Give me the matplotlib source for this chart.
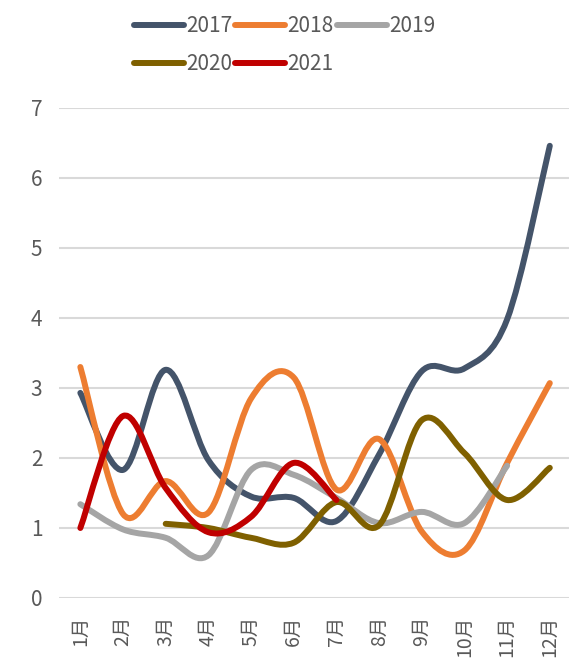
import numpy as np
import matplotlib
matplotlib.use("Agg")
import matplotlib.pyplot as plt
from matplotlib.path import Path
from matplotlib.patches import PathPatch
from matplotlib.lines import Line2D

plt.rcParams['font.family'] = ['Noto Sans CJK SC', 'DejaVu Sans']

months = ['1月', '2月', '3月', '4月', '5月', '6月', '7月', '8月', '9月', '10月', '11月', '12月']
nan = np.nan
y2017 = [2.93, 1.83, 3.26, 1.97, 1.45, 1.43, 1.10, 2.05, 3.24, 3.28, 3.98, 6.46]
y2018 = [3.30, 1.20, 1.67, 1.22, 2.85, 3.15, 1.55, 2.27, 0.95, 0.68, 1.93, 3.07]
y2019 = [1.34, 0.98, 0.86, 0.61, 1.83, 1.76, 1.43, 1.07, 1.23, 1.07, 1.89, nan]
y2020 = [nan, nan, 1.06, 1.00, 0.86, 0.79, 1.37, 1.04, 2.54, 2.07, 1.40, 1.86]
y2021 = [1.00, 2.60, 1.57, 0.94, 1.16, 1.93, 1.40, nan, nan, nan, nan, nan]

series = [('2017', y2017, '#44546A'),
          ('2018', y2018, '#ED7D31'),
          ('2019', y2019, '#A5A5A5'),
          ('2020', y2020, '#7F6000'),
          ('2021', y2021, '#C00000')]


def smooth_path(xs, ys):
    # bezier through the points, like excel's smoothed line
    pts = np.column_stack([xs, ys])
    n = len(pts)
    verts = [pts[0]]
    codes = [Path.MOVETO]
    for i in range(n - 1):
        p0 = pts[i - 1] if i > 0 else pts[i]
        p1 = pts[i]
        p2 = pts[i + 1]
        p3 = pts[i + 2] if i + 2 < n else pts[i + 1]
        verts += [p1 + (p2 - p0) / 6, p2 - (p3 - p1) / 6, p2]
        codes += [Path.CURVE4] * 3
    return Path(verts, codes)


fig = plt.figure(figsize=(5.69, 6.6), dpi=100)
ax = fig.add_axes([59 / 569, 62 / 660, 510 / 569, 490 / 660])

x = np.arange(1, len(months) + 1)
handles = []
for k, (name, vals, color) in enumerate(series):
    v = np.array(vals, dtype=float)
    ok = ~np.isnan(v)
    patch = PathPatch(smooth_path(x[ok], v[ok]), fill=False, edgecolor=color,
                      lw=4.3, capstyle='round', joinstyle='round', zorder=3 + k)
    ax.add_patch(patch)
    handles.append(Line2D([], [], color=color, lw=4.3, solid_capstyle='round'))

ax.set_xlim(0.5, 12.45)
ax.set_ylim(0, 7)
ax.set_yticks(range(0, 8))
ax.set_xticks(x)
ax.set_xticklabels(months, rotation=90)
ax.grid(axis='y', color='#D9D9D9', lw=1.5)
ax.set_axisbelow(True)
for s in ax.spines.values():
    s.set_visible(False)
ax.tick_params(length=0, colors='#595959')
ax.tick_params(axis='y', labelsize=15, pad=12)
ax.tick_params(axis='x', labelsize=14, pad=13)

# legend fills by column, so reorder to get rows 2017-2019 / 2020-2021
order = [0, 3, 1, 4, 2]
fig.legend([handles[i] for i in order], [series[i][0] for i in order],
           loc='upper center', ncol=3, bbox_to_anchor=(0.5, 1.005),
           frameon=False, fontsize=15, labelcolor='#595959',
           handlelength=2.4, handletextpad=0.1, columnspacing=0.15,
           labelspacing=0.75)

fig.savefig('out.png', dpi=100)
